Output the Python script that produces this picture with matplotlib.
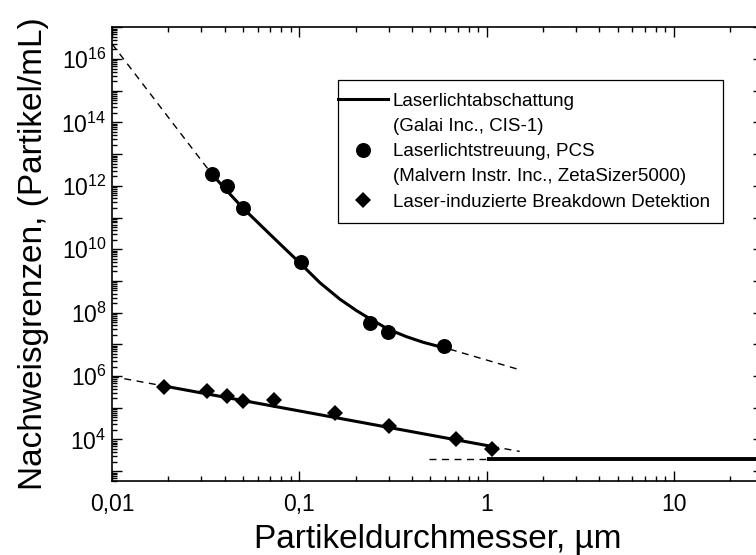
import matplotlib
matplotlib.use('Agg')
import matplotlib.pyplot as plt
from matplotlib import ticker
from matplotlib.lines import Line2D
from matplotlib.legend_handler import HandlerLine2D
import numpy as np

plt.rcParams['font.family'] = ['Liberation Sans', 'DejaVu Sans']
plt.rcParams['mathtext.fontset'] = 'custom'
plt.rcParams['mathtext.rm'] = 'Liberation Sans'

# Messpunkte PCS (Laserlichtstreuung)
pcs_d = [0.034, 0.041, 0.050, 0.102, 0.238, 0.298, 0.593]
pcs_n = [2.4e12, 1.0e12, 1.94e11, 4.1e9, 4.7e7, 2.4e7, 8.6e6]

# Messpunkte LIBD
libd_d = [0.019, 0.032, 0.041, 0.050, 0.073, 0.155, 0.302, 0.69, 1.07]
libd_n = [4.4e5, 3.3e5, 2.4e5, 1.66e5, 1.8e5, 6.8e4, 2.6e4, 1.03e4, 5.0e3]

# Ausgleichskurve PCS
pcs_fit_d = [0.0340, 0.0409, 0.0502, 0.0705, 0.1016, 0.1288, 0.1647, 0.2022,
             0.2380, 0.2981, 0.3737, 0.4582, 0.5627, 0.6363]
pcs_fit_n = [2.41e12, 7.11e11, 1.94e11, 2.77e10, 3.49e9, 8.77e8, 2.65e8, 1.15e8,
             6.42e7, 2.99e7, 1.74e7, 1.16e7, 8.40e6, 7.00e6]
pcs_ext_left_d = [0.01, 0.034]
pcs_ext_left_n = [3.0e16, 2.41e12]
pcs_ext_right_d = [0.6363, 1.5]
pcs_ext_right_n = [7.00e6, 1.58e6]

# Ausgleichsgerade LIBD
libd_fit_d = [0.019, 1.07]
libd_fit_n = [4.84e5, 6.0e3]
libd_ext_left_d = [0.01, 0.019]
libd_ext_left_n = [9.7e5, 4.84e5]
libd_ext_right_d = [1.07, 1.5]
libd_ext_right_n = [6.0e3, 4.2e3]

# Laserlichtabschattung (Galai)
galai_d = [1.0, 30]
galai_n = [2.5e3, 2.5e3]
galai_ext_d = [0.49, 1.0]
galai_ext_n = [2.5e3, 2.5e3]

x_ticks = [0.01, 0.1, 1, 10]
x_ticklabels = ['0,01', '0,1', '1', '10']

legend_labels = ['Laserlichtabschattung', '(Galai Inc., CIS-1)',
                 'Laserlichtstreuung, PCS', '(Malvern Instr. Inc., ZetaSizer5000)',
                 'Laser-induzierte Breakdown Detektion']

LEG_FS = 13.5
LEG_PAD = 0.68


class WideLine(HandlerLine2D):
    # Legendensymbol bis an den Rahmen ziehen
    def create_artists(self, legend, orig_handle, xdescent, ydescent,
                       width, height, fontsize, trans):
        ext = LEG_PAD * fontsize
        return super().create_artists(legend, orig_handle, xdescent + ext, ydescent,
                                      width + ext, height, fontsize, trans)


fig = plt.figure(figsize=(7.56, 5.55), dpi=100)
ax = fig.add_axes([112 / 756, 1 - 480.7 / 555, 651.4 / 756, 453.4 / 555])

dash = dict(color='k', lw=1.0, dashes=(5, 4))
ax.plot(pcs_ext_left_d, pcs_ext_left_n, **dash)
ax.plot(pcs_ext_right_d, pcs_ext_right_n, **dash)
ax.plot(libd_ext_left_d, libd_ext_left_n, **dash)
ax.plot(libd_ext_right_d, libd_ext_right_n, **dash)
ax.plot(galai_ext_d, galai_ext_n, **dash)

ax.plot(pcs_fit_d, pcs_fit_n, color='k', lw=2.2, solid_capstyle='butt', solid_joinstyle='round')
ax.plot(libd_fit_d, libd_fit_n, color='k', lw=2.2, solid_capstyle='butt')
ax.plot(galai_d, galai_n, color='k', lw=2.8, solid_capstyle='butt')

ax.plot(pcs_d, pcs_n, 'o', color='k', ms=10.8, mew=0, zorder=5)
ax.plot(libd_d, libd_n, 'D', color='k', ms=8.3, mew=0, zorder=5)

ax.set_xscale('log')
ax.set_yscale('log')
ax.set_xlim(0.01, 30)
ax.set_ylim(500, 1e17)

ax.set_xticks(x_ticks)
ax.set_xticklabels(x_ticklabels)
ax.xaxis.set_minor_locator(ticker.LogLocator(base=10, subs=np.arange(2, 10), numticks=50))
ax.xaxis.set_minor_formatter(ticker.NullFormatter())

ax.yaxis.set_major_locator(ticker.LogLocator(base=10, numticks=40))
ax.yaxis.set_minor_locator(ticker.LogLocator(base=10, subs=np.arange(2, 10), numticks=400))
ax.yaxis.set_minor_formatter(ticker.NullFormatter())


def ylab(v, pos):
    e = int(round(np.log10(v)))
    if e % 2 == 0 and 4 <= e <= 16:
        return r'$\mathregular{10^{%d}}$' % e
    return ''


ax.yaxis.set_major_formatter(ticker.FuncFormatter(ylab))

ax.tick_params(which='both', direction='in', top=True, right=True, width=1.0)
ax.tick_params(which='major', length=7)
ax.tick_params(which='minor', length=3.5, right=False)
ax.tick_params(axis='x', which='major', labelsize=16.5, pad=9)
ax.tick_params(axis='y', which='major', labelsize=16.5, pad=4)
for s in ax.spines.values():
    s.set_linewidth(1.2)

ax.set_xlabel('Partikeldurchmesser, µm', fontsize=24, labelpad=5.5)
ax.set_ylabel('Nachweisgrenzen, (Partikel/mL)', fontsize=24, labelpad=9)

blank = Line2D([], [], color='none')
handles = [Line2D([], [], color='k', lw=2.2), blank,
           Line2D([], [], ls='none', marker='o', color='k', ms=10.8, mew=0), blank,
           Line2D([], [], ls='none', marker='D', color='k', ms=8.3, mew=0)]
leg = ax.legend(handles, legend_labels, loc='upper left',
                bbox_to_anchor=(337.7 / 756, 1 - 80 / 555), bbox_transform=fig.transFigure,
                borderaxespad=0, fontsize=LEG_FS, frameon=True, fancybox=False,
                edgecolor='k', framealpha=1, borderpad=LEG_PAD, handlelength=2.0,
                handletextpad=0.25, labelspacing=0.43,
                handler_map={Line2D: WideLine()})
leg.get_frame().set_linewidth(0.9)

plt.savefig('out.png', dpi=100)
